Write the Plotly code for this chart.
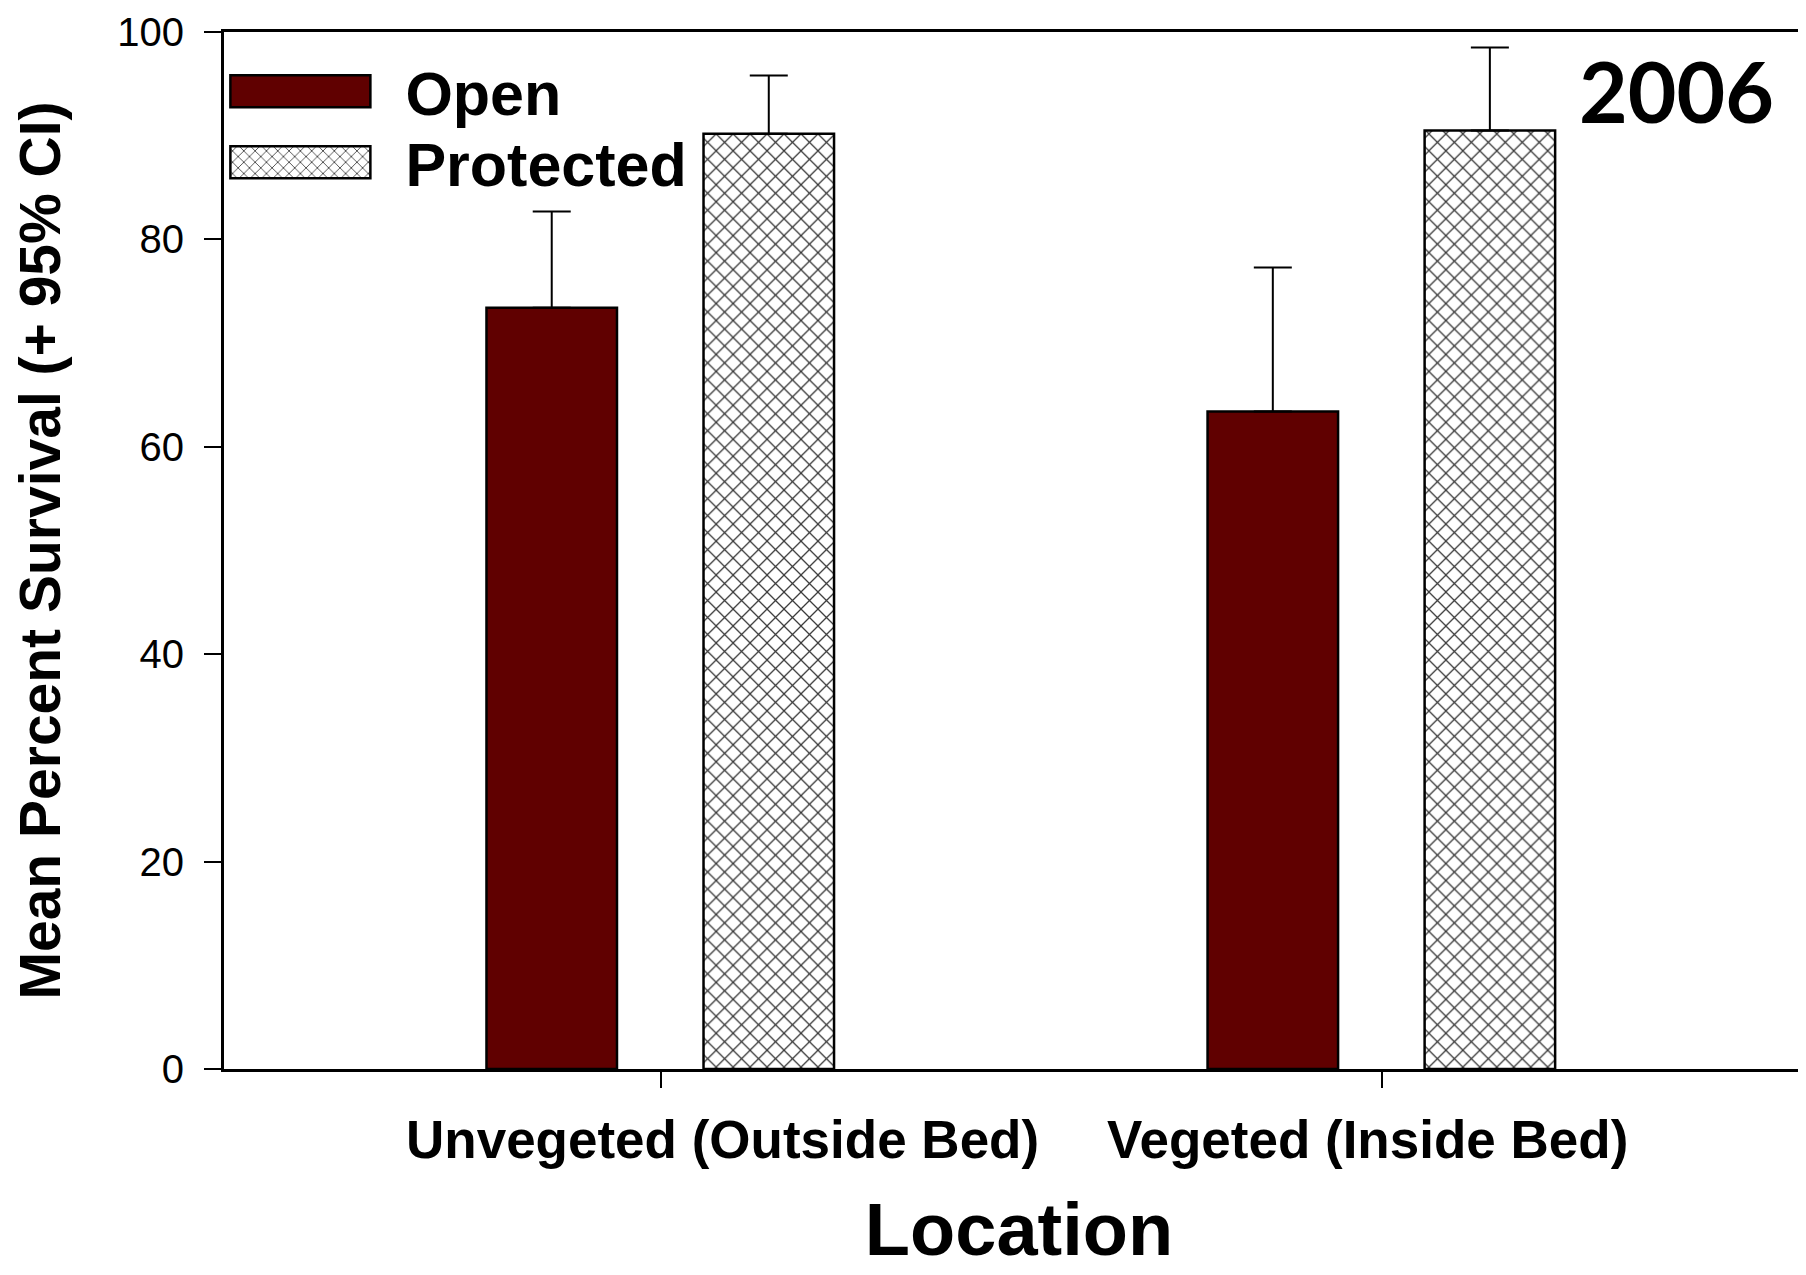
import plotly.graph_objects as go

# ---- data ----
categories = ["Unvegeted (Outside Bed)", "Vegeted (Inside Bed)"]
open_mean = [73.4, 63.4]
open_ci = [9.3, 13.9]
protected_mean = [90.2, 90.5]
protected_ci = [5.6, 8.0]
y_ticks = [0, 20, 40, 60, 80, 100]
year_label = "2006"

# ---- styling ----
W, H = 1806, 1275
ML, MR, MT, MB = 216, 0, 24, 214
FONT = "Liberation Sans, Arial, sans-serif"
label_xshift = [62, -15]

fig = go.Figure()
fig.add_trace(go.Bar(
    name="Open", x=categories, y=open_mean, width=0.181, offset=-0.242,
    marker=dict(color="#600000", line=dict(color="black", width=2.5)),
    error_y=dict(type="data", array=open_ci, arrayminus=[0, 0], symmetric=False,
                 color="black", thickness=2, width=19),
))
fig.add_trace(go.Bar(
    name="Protected", x=categories, y=protected_mean, width=0.181, offset=0.059,
    marker=dict(color="white", line=dict(color="black", width=2.5),
                pattern=dict(shape="x", fgcolor="#3a3a3a", bgcolor="white",
                             size=12, solidity=0.2, fillmode="replace")),
    error_y=dict(type="data", array=protected_ci, arrayminus=[0, 0], symmetric=False,
                 color="black", thickness=2, width=19),
))

annotations = []
for cat, sh in zip(categories, label_xshift):
    annotations.append(dict(
        text=cat, x=cat, xref="x", y=-0.068, yref="paper", xshift=sh,
        showarrow=False, xanchor="center", yanchor="middle",
        font=dict(family=FONT, size=53, color="black", weight="bold"),
    ))
annotations.append(dict(
    text=year_label, x=0.9135, y=0.944, xref="paper", yref="paper",
    showarrow=False, xanchor="center", yanchor="middle",
    font=dict(family="Lato, Open Sans, sans-serif", size=84, color="black", weight="bold"),
))

fig.update_layout(
    width=W, height=H,
    margin=dict(l=ML, r=MR, t=MT, b=MB, pad=0),
    paper_bgcolor="white", plot_bgcolor="white",
    barmode="overlay",
    font=dict(family=FONT, color="black"),
    showlegend=True,
    legend=dict(
        x=-0.018, y=0.9874, xanchor="left", yanchor="top",
        bgcolor="rgba(0,0,0,0)", borderwidth=0,
        itemwidth=200, tracegroupgap=0,
        font=dict(family=FONT, size=61, color="black", weight="bold"),
    ),
    xaxis=dict(
        type="category", range=[-0.606, 1.599],
        showline=True, linecolor="black", linewidth=3, mirror=True,
        ticks="outside", ticklen=16, tickwidth=2, tickcolor="black",
        showticklabels=False, showgrid=False, zeroline=False,
        automargin=False,
        title=dict(text="Location", standoff=117,
                   font=dict(family=FONT, size=74, color="black", weight="bold")),
    ),
    yaxis=dict(
        range=[0, 100], tickvals=y_ticks,
        showline=True, linecolor="black", linewidth=3,
        ticks="outside", ticklen=17, tickwidth=2, tickcolor="black",
        ticklabelstandoff=12, ticklabeloverflow="allow",
        tickfont=dict(family=FONT, size=40, color="black"),
        showgrid=False, zeroline=False, automargin=False,
        title=dict(text="Mean Percent Survival (+ 95% CI)", standoff=66,
                   font=dict(family=FONT, size=57, color="black", weight="bold")),
    ),
    annotations=annotations,
)

post = """
var gd = document.getElementById('{plot_id}');
function fixLegend(){
  gd.querySelectorAll('.legend .legendpoints path').forEach(function(p){
    var d = p.getAttribute('d') || '';
    if (d.indexOf('M6,6H-6V-6H6Z') === 0) { p.setAttribute('d', 'M70,16H-70V-16H70Z'); }
  });
  var items = gd.querySelectorAll('.legend .traces');
  if (items.length > 1) {
    var t0 = items[0].getAttribute('transform') || '';
    var m = /translate\\(\\s*([-\\d.e]+)[\\s,]+([-\\d.e]+)\\s*\\)/.exec(t0);
    if (m) {
      var x0 = parseFloat(m[1]), y0 = parseFloat(m[2]);
      for (var i = 1; i < items.length; i++) {
        items[i].setAttribute('transform', 'translate(' + x0 + ',' + (y0 + 71 * i) + ')');
      }
    }
  }
}
fixLegend();
gd.on('plotly_afterplot', fixLegend);
"""
fig.write_html("out.html", post_script=post)
